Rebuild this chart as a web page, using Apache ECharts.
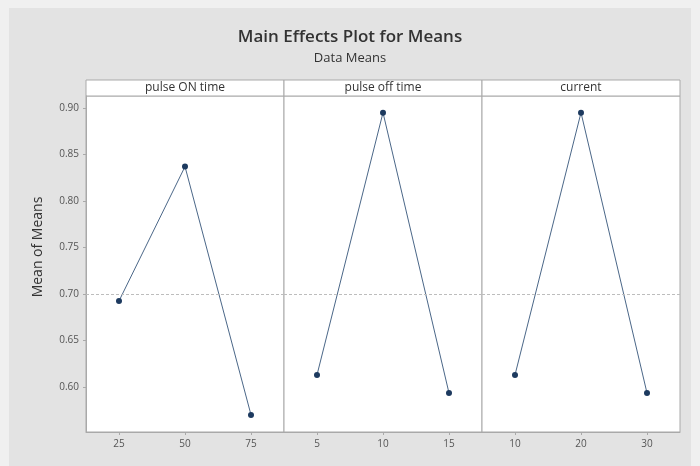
<!DOCTYPE html>
<html>
<head>
<meta charset="utf-8">
<script src="https://cdn.jsdelivr.net/npm/echarts@6/dist/echarts.min.js"></script>
<style>
html,body{margin:0;padding:0;background:#f0f0f0;}
#c{width:700px;height:466px;}
</style>
</head>
<body>
<div id="c"></div>
<script>
// ---- data ----
const panelNames = ['pulse ON time', 'pulse off time', 'current'];
const levelsOn = ['25', '50', '75'];
const levelsOff = ['5', '10', '15'];
const levelsCurrent = ['10', '20', '30'];
const meansOn = [0.6925, 0.837, 0.570];
const meansOff = [0.613, 0.895, 0.5935];
const meansCurrent = [0.613, 0.895, 0.5935];
const yTickValues = [0.60, 0.65, 0.70, 0.75, 0.80, 0.85, 0.90];
const overallMean = 0.70;
const yMin = 0.5516, yMax = 0.9129;

const levels = [levelsOn, levelsOff, levelsCurrent];
const means = [meansOn, meansOff, meansCurrent];

// ---- layout ----
const L = 86, R = 680, T = 96, B = 432, stripTop = 80;
const pw = (R - L) / 3;
const font = '"Open Sans", "Noto Sans", sans-serif';
const axisGray = '#a9a9a9';

const grids = [], xAxes = [], yAxes = [], series = [], graphics = [];

graphics.push({type:'rect', shape:{x:9, y:8, width:682, height:470}, style:{fill:'#e3e3e3'}, z:-10, silent:true});

for (let i = 0; i < 3; i++) {
  const left = L + pw * i;
  grids.push({left: left, top: T, width: pw, height: B - T, show: true, backgroundColor: '#ffffff', borderColor: axisGray, borderWidth: 1});
  xAxes.push({
    type: 'category', gridIndex: i, data: levels[i], boundaryGap: true,
    axisLine: {show: true, lineStyle: {color: axisGray}},
    axisTick: {show: true, alignWithLabel: true, length: 3, lineStyle: {color: axisGray}},
    axisLabel: {color: '#555', fontSize: 10, fontFamily: font, margin: 7},
    splitLine: {show: false}
  });
  yAxes.push({
    type: 'value', gridIndex: i, min: yMin, max: yMax,
    axisLine: {show: i === 0, lineStyle: {color: axisGray}},
    axisTick: {show: i === 0, length: 3, customValues: yTickValues, lineStyle: {color: axisGray}},
    axisLabel: {show: i === 0, color: '#555', fontSize: 10, fontFamily: font, margin: 7,
      customValues: yTickValues, formatter: v => v.toFixed(2)},
    splitLine: {show: false}
  });
  series.push({
    type: 'line', xAxisIndex: i, yAxisIndex: i, data: means[i],
    symbol: 'circle', symbolSize: 6,
    lineStyle: {color: '#4b6788', width: 1},
    itemStyle: {color: '#1d3a5f'},
    markLine: {
      silent: true, symbol: 'none', label: {show: false},
      lineStyle: {color: '#bdbdbd', type: [3, 2], width: 1},
      data: [{yAxis: overallMean}]
    },
    animation: false
  });
  graphics.push({type:'rect', shape:{x:left, y:stripTop, width:pw, height:T - stripTop},
    style:{fill:'#ffffff', stroke:axisGray, lineWidth:1}, silent:true});
  graphics.push({type:'text', x:left + pw/2, y:stripTop + (T - stripTop)/2,
    style:{text:panelNames[i], fill:'#333', font:'12px ' + font, textAlign:'center', textVerticalAlign:'middle'}, silent:true});
}

graphics.push({type:'text', x:38, y:247, rotation:Math.PI/2,
  style:{text:'Mean of Means', fill:'#333', font:'14px ' + font, textAlign:'center', textVerticalAlign:'middle'}, silent:true});

const chart = echarts.init(document.getElementById('c'), null, {renderer:'canvas'});
chart.setOption({
  backgroundColor: '#f0f0f0',
  animation: false,
  title: [
    {text: 'Main Effects Plot for Means', left: 'center', top: 24,
      textStyle: {fontSize: 17, fontWeight: 600, color: '#333', fontFamily: font}},
    {text: 'Data Means', left: 'center', top: 47,
      textStyle: {fontSize: 13, fontWeight: 'normal', color: '#333', fontFamily: font}}
  ],
  grid: grids, xAxis: xAxes, yAxis: yAxes, series: series, graphic: graphics
});
</script>
</body>
</html>
